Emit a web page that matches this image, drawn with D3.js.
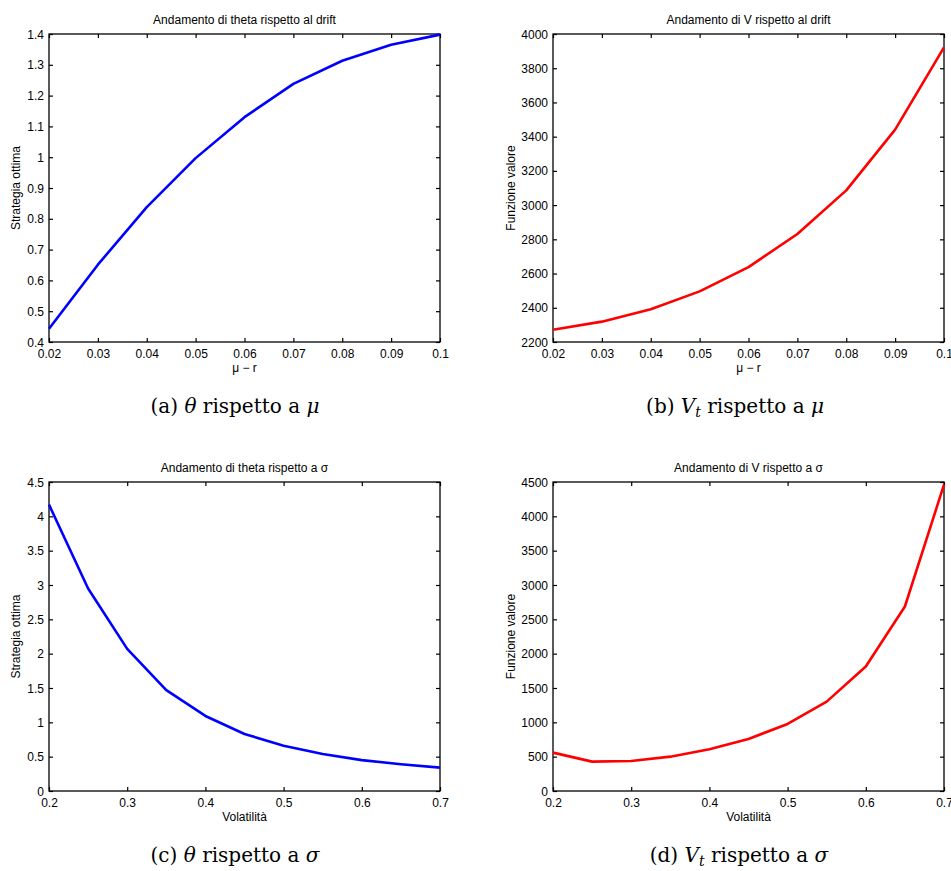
<!DOCTYPE html>
<html><head><meta charset="utf-8">
<script src="https://cdn.jsdelivr.net/npm/d3@7"></script>
<style>
body{margin:0;background:#fff;}
svg{display:block;}
</style>
</head><body>
<svg id="c" width="951" height="871"></svg>
<script>
// ---- data ----
const driftX = [0.02,0.03,0.04,0.05,0.06,0.07,0.08,0.09,0.10];
const thetaDrift = [0.443,0.651,0.838,0.997,1.130,1.238,1.313,1.365,1.398];
const vDrift = [2272,2319,2391,2496,2638,2831,3086,3441,3922];
const sigmaX = [0.20,0.25,0.30,0.35,0.40,0.45,0.50,0.55,0.60,0.65,0.70];
const thetaSigma = [4.17,2.95,2.07,1.47,1.093,0.83,0.66,0.54,0.45,0.39,0.34];
const vSigma = [559,428,437,500,607,758,977,1302,1812,2687,4461];

const driftTicks = [0.02,0.03,0.04,0.05,0.06,0.07,0.08,0.09,0.1];
const driftTickLabels = ["0.02","0.03","0.04","0.05","0.06","0.07","0.08","0.09","0.1"];
const sigmaTicks = [0.2,0.3,0.4,0.5,0.6,0.7];
const sigmaTickLabels = ["0.2","0.3","0.4","0.5","0.6","0.7"];
const thetaDriftTicks = [0.4,0.5,0.6,0.7,0.8,0.9,1,1.1,1.2,1.3,1.4];
const thetaDriftTickLabels = ["0.4","0.5","0.6","0.7","0.8","0.9","1","1.1","1.2","1.3","1.4"];
const vDriftTicks = [2200,2400,2600,2800,3000,3200,3400,3600,3800,4000];
const vDriftTickLabels = ["2200","2400","2600","2800","3000","3200","3400","3600","3800","4000"];
const thetaSigmaTicks = [0,0.5,1,1.5,2,2.5,3,3.5,4,4.5];
const thetaSigmaTickLabels = ["0","0.5","1","1.5","2","2.5","3","3.5","4","4.5"];
const vSigmaTicks = [0,500,1000,1500,2000,2500,3000,3500,4000,4500];
const vSigmaTickLabels = ["0","500","1000","1500","2000","2500","3000","3500","4000","4500"];

const svg = d3.select("#c");
const SANS = "'Liberation Sans', Arial, Helvetica, sans-serif";
const SERIF = "'DejaVu Serif', 'Liberation Serif', serif";

function panel(o){
  const g = svg.append("g");
  const x = d3.scaleLinear().domain(o.xDomain).range([o.left,o.right]);
  const y = d3.scaleLinear().domain(o.yDomain).range([o.bottom,o.top]);
  const tl = 4;
  g.append("rect").attr("x",o.left).attr("y",o.top)
    .attr("width",o.right-o.left).attr("height",o.bottom-o.top)
    .attr("fill","none").attr("stroke","#000").attr("stroke-width",1.3);
  const xfmt = d=>o.xLabels[o.xTicks.indexOf(d)];
  const yfmt = d=>o.yLabels[o.yTicks.indexOf(d)];
  const ax = g.append("g").attr("transform",`translate(0,${o.bottom})`)
    .call(d3.axisBottom(x).tickValues(o.xTicks).tickFormat(xfmt).tickSizeInner(-tl).tickSizeOuter(0).tickPadding(5));
  const axt = g.append("g").attr("transform",`translate(0,${o.top})`)
    .call(d3.axisTop(x).tickValues(o.xTicks).tickFormat("").tickSizeInner(-tl).tickSizeOuter(0));
  const ay = g.append("g").attr("transform",`translate(${o.left},0)`)
    .call(d3.axisLeft(y).tickValues(o.yTicks).tickFormat(yfmt).tickSizeInner(-tl).tickSizeOuter(0).tickPadding(5));
  const ayr = g.append("g").attr("transform",`translate(${o.right},0)`)
    .call(d3.axisRight(y).tickValues(o.yTicks).tickFormat("").tickSizeInner(-tl).tickSizeOuter(0));
  [ax,axt,ay,ayr].forEach(a=>{
    a.select(".domain").remove();
    a.selectAll(".tick line").attr("stroke","#000").attr("stroke-width",1.2);
    a.selectAll(".tick text").attr("fill","#000").attr("font-size",12).attr("font-family",SANS);
  });
  ax.selectAll(".tick text").attr("dy",null).attr("y",15.5);
  ay.selectAll(".tick text").attr("x",-5).attr("dy","0.34em");
  const line = d3.line().x(d=>x(d[0])).y(d=>y(d[1]));
  g.append("path").datum(o.xs.map((v,i)=>[v,o.ys[i]]))
    .attr("d",line).attr("fill","none").attr("stroke",o.color)
    .attr("stroke-width",2.6).attr("stroke-linejoin","round");
  g.append("text").attr("x",(o.left+o.right)/2).attr("y",o.top-10)
    .attr("text-anchor","middle").attr("font-family",SANS).attr("font-size",12).attr("fill","#000")
    .text(o.title);
  g.append("text").attr("x",(o.left+o.right)/2).attr("y",o.bottom+30)
    .attr("text-anchor","middle").attr("font-family",SANS).attr("font-size",12).attr("fill","#000")
    .text(o.xLabel);
  g.append("text").attr("transform",`translate(${o.left-o.yLabOff},${(o.top+o.bottom)/2}) rotate(-90)`)
    .attr("text-anchor","middle").attr("dy","0.35em").attr("font-family",SANS).attr("font-size",12).attr("fill","#000")
    .text(o.yLabel);
  const cap = g.append("text").attr("x",o.capX).attr("y",o.capY)
    .attr("text-anchor","middle").attr("font-family",SERIF).attr("font-size",20).attr("fill","#000");
  o.caption.forEach(p=>{
    const t = cap.append("tspan").text(p.t);
    if(p.i) t.attr("font-style","italic");
    if(p.sub) t.attr("font-size",14).attr("dy",4);
    if(p.up) t.attr("dy",-4);
  });
}

panel({left:49,right:440,top:34,bottom:342,xDomain:[0.02,0.1],yDomain:[0.4,1.4],
  xTicks:driftTicks,xLabels:driftTickLabels,yTicks:thetaDriftTicks,yLabels:thetaDriftTickLabels,
  xs:driftX,ys:thetaDrift,color:"#0000ff",title:"Andamento di theta rispetto al drift",
  xLabel:"μ − r",yLabel:"Strategia ottima",yLabOff:33,capX:235,capY:413,
  caption:[{t:"(a) "},{t:"θ",i:1},{t:" rispetto a "},{t:"μ",i:1}]});
panel({left:553,right:944,top:34,bottom:342,xDomain:[0.02,0.1],yDomain:[2200,4000],
  xTicks:driftTicks,xLabels:driftTickLabels,yTicks:vDriftTicks,yLabels:vDriftTickLabels,
  xs:driftX,ys:vDrift,color:"#ff0000",title:"Andamento di V rispetto al drift",
  xLabel:"μ − r",yLabel:"Funzione valore",yLabOff:42,capX:735,capY:413,
  caption:[{t:"(b) "},{t:"V",i:1},{t:"t",i:1,sub:1},{t:" rispetto a ",up:1},{t:"μ",i:1}]});
panel({left:49,right:440,top:482,bottom:791,xDomain:[0.2,0.7],yDomain:[0,4.5],
  xTicks:sigmaTicks,xLabels:sigmaTickLabels,yTicks:thetaSigmaTicks,yLabels:thetaSigmaTickLabels,
  xs:sigmaX,ys:thetaSigma,color:"#0000ff",title:"Andamento di theta rispetto a σ",
  xLabel:"Volatilità",yLabel:"Strategia ottima",yLabOff:33,capX:235,capY:862,
  caption:[{t:"(c) "},{t:"θ",i:1},{t:" rispetto a "},{t:"σ",i:1}]});
panel({left:553,right:944,top:482,bottom:791,xDomain:[0.2,0.7],yDomain:[0,4500],
  xTicks:sigmaTicks,xLabels:sigmaTickLabels,yTicks:vSigmaTicks,yLabels:vSigmaTickLabels,
  xs:sigmaX,ys:vSigma,color:"#ff0000",title:"Andamento di V rispetto a σ",
  xLabel:"Volatilità",yLabel:"Funzione valore",yLabOff:42,capX:739,capY:862,
  caption:[{t:"(d) "},{t:"V",i:1},{t:"t",i:1,sub:1},{t:" rispetto a ",up:1},{t:"σ",i:1}]});
</script>
</body></html>
